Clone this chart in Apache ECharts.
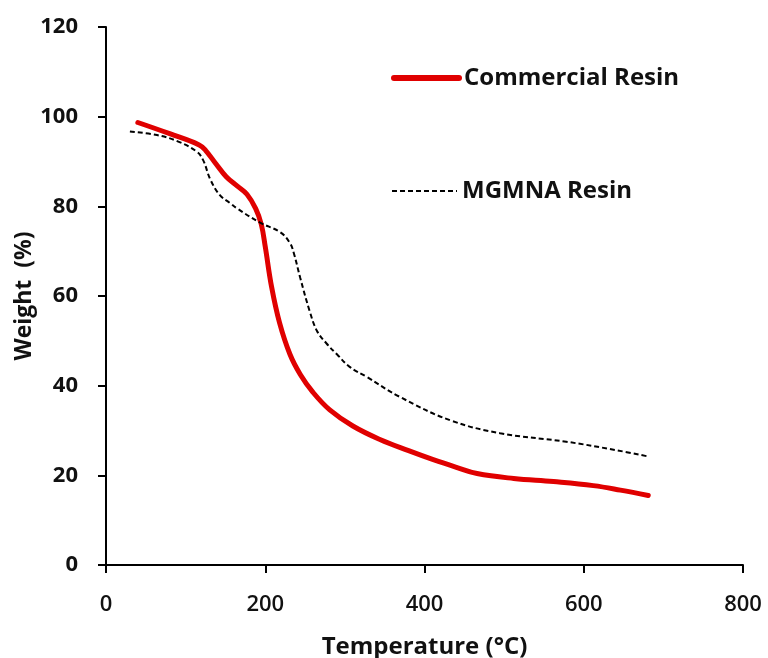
<!DOCTYPE html>
<html>
<head>
<meta charset="utf-8">
<script src="https://cdn.jsdelivr.net/npm/echarts@6/dist/echarts.min.js"></script>
<style>html,body{margin:0;padding:0;background:#fff}#c{width:768px;height:658px}</style>
</head>
<body>
<div id="c"></div>
<script>
var commercialResin = [[40,98.7],[80,96.2],[117,93.7],[125,92.5],[138,89.5],[151,86.6],[165,84.5],[177,82.7],[188,79.5],[195,76],[200,71],[208,62],[218,54],[231,47],[244,42.5],[260,38.5],[281,34.6],[310,31],[344,28],[380,25.5],[411,23.5],[440,21.8],[466,20.4],[512,19.3],[562,18.6],[612,17.7],[646,16.7],[681,15.5]];
var mgmnaResin = [[30,96.7],[64,95.9],[90,94.5],[114,92.2],[122,90.3],[131,86],[143,82.5],[156,80.7],[164,79.6],[193,76.4],[219,74.2],[231,71.8],[236,69.5],[244,64],[256,56.5],[265,52.2],[277,49.4],[290,47],[306,44.2],[327,42],[369,37.5],[432,32.3],[495,29.4],[578,27.5],[641,25.6],[681,24.2]];
var xTicks = [0,200,400,600,800];
var yTicks = [0,20,40,60,80,100,120];
var seriesNames = ['Commercial Resin','MGMNA Resin'];

var font = '"Open Sans", "Noto Sans", sans-serif';
var legendText = {fontFamily: font, fontWeight: 'bold', fontSize: 24, lineHeight: 24, color: '#111'};
var chart = echarts.init(document.getElementById('c'));
chart.setOption({
  animation: false,
  backgroundColor: '#fff',
  grid: {left: 106, right: 25, top: 27, bottom: 93, containLabel: false, outerBoundsMode: 'none'},
  legend: [
    {left: 386, top: 61, padding: 5, itemWidth: 65, itemHeight: 14, textStyle: legendText,
     itemStyle: {opacity: 0}, lineStyle: {width: 6, cap: 'round'}, data: [seriesNames[0]]},
    {left: 386, top: 174, padding: 5, itemWidth: 65, itemHeight: 14, textStyle: legendText,
     itemStyle: {opacity: 0}, lineStyle: {width: 2}, data: [seriesNames[1]]}
  ],
  xAxis: {
    type: 'value', min: xTicks[0], max: xTicks[xTicks.length-1], interval: 200,
    name: 'Temperature (°C)', nameLocation: 'middle', nameGap: 70, nameMoveOverlap: false,
    nameTextStyle: {fontFamily: font, fontWeight: 'bold', fontSize: 24, color: '#111'},
    axisLine: {lineStyle: {color: '#000', width: 2}},
    axisTick: {show: true, inside: false, length: 8, lineStyle: {color: '#000', width: 2}},
    axisLabel: {fontFamily: font, fontWeight: 600, fontSize: 22, color: '#111', margin: 29},
    splitLine: {show: false}
  },
  yAxis: {
    type: 'value', min: yTicks[0], max: yTicks[yTicks.length-1], interval: 20,
    name: 'Weight  (%)', nameLocation: 'middle', nameGap: 70, nameMoveOverlap: false,
    nameTextStyle: {fontFamily: font, fontWeight: 'bold', fontSize: 23, color: '#111'},
    axisLine: {show: true, lineStyle: {color: '#000', width: 2}},
    axisTick: {show: true, inside: false, length: 8, lineStyle: {color: '#000', width: 2}},
    axisLabel: {fontFamily: font, fontWeight: 'bold', fontSize: 22, color: '#111', margin: 28},
    splitLine: {show: false}
  },
  series: [
    {name: seriesNames[0], type: 'line', data: commercialResin, smooth: 0.4, symbol: 'none',
     lineStyle: {color: '#e00000', width: 5, cap: 'round'}, itemStyle: {color: '#e00000'}},
    {name: seriesNames[1], type: 'line', data: mgmnaResin, smooth: 0.4, symbol: 'none',
     lineStyle: {color: '#000', width: 2, type: [5, 3]}, itemStyle: {color: '#000'}}
  ]
});
</script>
</body>
</html>
